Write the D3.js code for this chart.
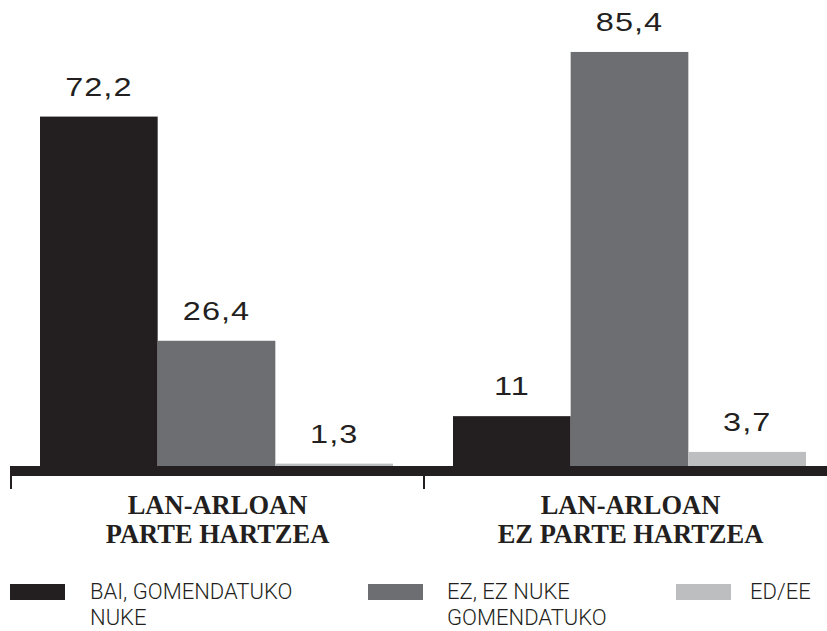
<!DOCTYPE html>
<html>
<head>
<meta charset="utf-8">
<script src="https://cdn.jsdelivr.net/npm/d3@7"></script>
<style>
  html, body { margin: 0; padding: 0; background: #fff; }
  svg { display: block; }
</style>
</head>
<body>
<svg id="chart" width="827" height="631"></svg>
<script>
// Groups along the axis (two-line labels)
const groups = ["g1", "g2"];
const groupLabels = [
  ["LAN-ARLOAN", "PARTE HARTZEA"],
  ["LAN-ARLOAN", "EZ PARTE HARTZEA"]
];

// Answer series
const series = ["bai", "ez", "ed"];
const seriesLabels = [
  ["BAI, GOMENDATUKO", "NUKE"],
  ["EZ, EZ NUKE", "GOMENDATUKO"],
  ["ED/EE"]
];
const seriesColors = ["#231f20", "#6d6e71", "#bcbec0"];

// Percentages per group, in series order
const valuesG1 = [72.2, 26.4, 1.3];
const valuesG2 = [11, 85.4, 3.7];
const valueText = [["72,2", "26,4", "1,3"], ["11", "85,4", "3,7"]];

const data = groups.map((g, gi) => ({
  group: g,
  labels: groupLabels[gi],
  bars: series.map((s, si) => ({
    key: s,
    value: (gi === 0 ? valuesG1 : valuesG2)[si],
    text: valueText[gi][si],
    color: seriesColors[si]
  }))
}));

const svg = d3.select("#chart");
const ink = "#231f20";

const x0 = d3.scaleBand().domain(groups).range([11, 837]).padding(0);
const x1 = d3.scaleBand().domain(series).range([29, 382]).padding(0);
const y = d3.scaleLinear().domain([0, 100]).range([470, -19.5]);

const g = svg.selectAll("g.group")
  .data(data)
  .join("g")
  .attr("class", "group")
  .attr("transform", d => `translate(${x0(d.group)},0)`);

// Bars
g.selectAll("rect.bar")
  .data(d => d.bars)
  .join("rect")
  .attr("class", "bar")
  .attr("x", d => x1(d.key))
  .attr("width", x1.bandwidth())
  .attr("y", d => y(d.value))
  .attr("height", d => y(0) - y(d.value))
  .attr("fill", d => d.color);

// Value labels (wide, extended numerals)
g.selectAll("text.val")
  .data(d => d.bars)
  .join("text")
  .attr("class", "val")
  .attr("transform", d => `translate(${x1(d.key) + x1.bandwidth() / 2},${y(d.value) - 21}) scale(1.3,1)`)
  .attr("text-anchor", "middle")
  .attr("font-family", "'Liberation Sans', Arial, sans-serif")
  .attr("font-size", 25)
  .attr("letter-spacing", "0.8px")
  .attr("fill", ink)
  .text(d => d.text);

// Heavy baseline
svg.append("rect")
  .attr("x", x0.range()[0] - 1)
  .attr("y", 466)
  .attr("width", 827 - x0.range()[0] + 1)
  .attr("height", 10)
  .attr("fill", ink);

// Group boundary ticks
const tickPos = [x0("g1"), x0("g2")];
svg.selectAll("line.tick")
  .data(tickPos)
  .join("line")
  .attr("class", "tick")
  .attr("x1", d => d).attr("x2", d => d)
  .attr("y1", 476).attr("y2", 489)
  .attr("stroke", ink)
  .attr("stroke-width", 2);

// Group labels
const cat = g.append("text")
  .attr("x", x0.bandwidth() / 2)
  .attr("text-anchor", "middle")
  .attr("font-family", "'Liberation Serif', 'Times New Roman', serif")
  .attr("font-weight", "bold")
  .attr("font-size", 26.5)
  .attr("fill", ink);
cat.selectAll("tspan")
  .data(d => d.labels)
  .join("tspan")
  .attr("x", x0.bandwidth() / 2)
  .attr("y", (d, i) => 514 + i * 29)
  .text(d => d);

// Legend
const legendX = [10, 368, 676];
const legendTextDx = [80, 79, 74];
const legend = svg.selectAll("g.legend")
  .data(series.map((s, i) => ({ key: s, lines: seriesLabels[i], color: seriesColors[i], x: legendX[i], dx: legendTextDx[i] })))
  .join("g")
  .attr("class", "legend")
  .attr("transform", d => `translate(${d.x},0)`);

legend.append("rect")
  .attr("x", 0).attr("y", 584)
  .attr("width", 55).attr("height", 16)
  .attr("fill", d => d.color);

const lt = legend.append("text")
  .attr("font-family", "Roboto, 'Open Sans', sans-serif")
  .attr("font-weight", 300)
  .attr("font-size", 22)
  .attr("fill", ink);
lt.selectAll("tspan")
  .data(d => d.lines.map(line => ({ line, dx: d.dx })))
  .join("tspan")
  .attr("x", d => d.dx)
  .attr("y", (d, i) => 599 + i * 26)
  .text(d => d.line);
</script>
</body>
</html>
